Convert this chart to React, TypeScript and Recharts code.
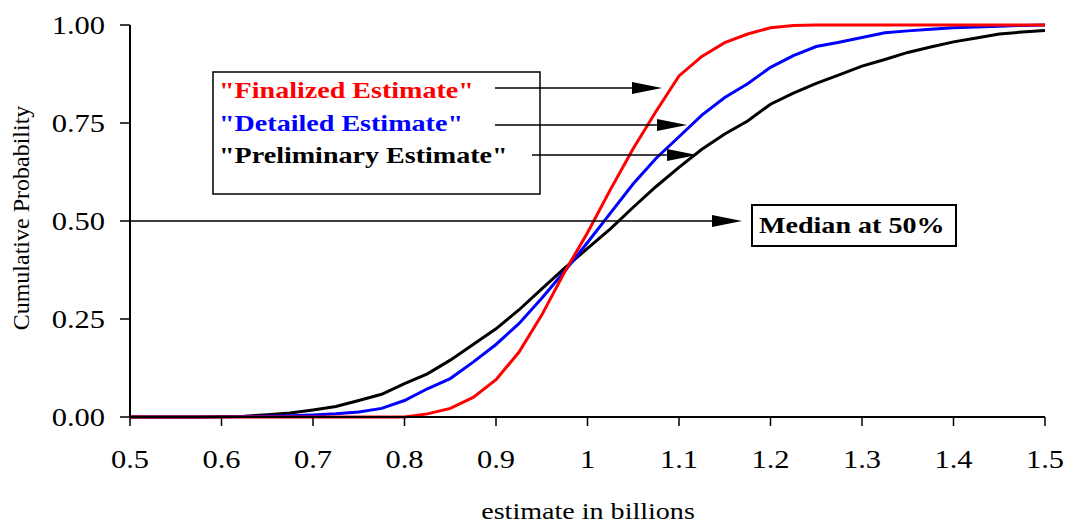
import React from "react";
import { LineChart, Line, XAxis, YAxis } from "recharts";

const X_VALUES = [
  0.5, 0.525, 0.55, 0.575, 0.6, 0.625, 0.65, 0.675, 0.7, 0.725, 0.75, 0.775, 0.8, 0.825, 0.85, 0.875,
  0.9, 0.925, 0.95, 0.975, 1.0, 1.025, 1.05, 1.075, 1.1, 1.125, 1.15, 1.175, 1.2, 1.225, 1.25, 1.275,
  1.3, 1.325, 1.35, 1.375, 1.4, 1.425, 1.45, 1.475, 1.5,
];

const FINALIZED = [
  0, 0, 0, 0, 0, 0, 0, 0, 0, 0, 0, 0, 0, 0.008, 0.022, 0.05, 0.095, 0.165, 0.26, 0.37, 0.47, 0.58,
  0.685, 0.78, 0.87, 0.92, 0.955, 0.977, 0.993, 0.999, 1, 1, 1, 1, 1, 1, 1, 1, 1, 1, 1,
];

const DETAILED = [
  0, 0, 0, 0, 0, 0.001, 0.002, 0.003, 0.005, 0.008, 0.013, 0.022, 0.042, 0.072, 0.098, 0.14, 0.185,
  0.238, 0.303, 0.372, 0.445, 0.52, 0.595, 0.66, 0.715, 0.77, 0.815, 0.85, 0.892, 0.922, 0.945, 0.956,
  0.968, 0.98, 0.985, 0.989, 0.993, 0.995, 0.997, 0.999, 1.0,
];

const PRELIMINARY = [
  0, 0, 0, 0, 0.001, 0.002, 0.006, 0.01, 0.018, 0.027, 0.042, 0.058, 0.085, 0.11, 0.145, 0.185, 0.225,
  0.273, 0.327, 0.38, 0.43, 0.48, 0.535, 0.588, 0.637, 0.683, 0.722, 0.755, 0.798, 0.826, 0.851, 0.873,
  0.895, 0.912, 0.93, 0.944, 0.957, 0.967, 0.977, 0.982, 0.986,
];

const X_TICKS = [0.5, 0.6, 0.7, 0.8, 0.9, 1, 1.1, 1.2, 1.3, 1.4, 1.5];
const Y_TICKS = [0, 0.25, 0.5, 0.75, 1];

const LEGEND_LABELS = ['"Finalized Estimate"', '"Detailed Estimate"', '"Preliminary Estimate"'];
const LEGEND_COLORS = ["#ff0000", "#0000ff", "#000000"];
const MEDIAN_LABEL = "Median at 50%";
const X_TITLE = "estimate in billions";
const Y_TITLE = "Cumulative Probability";

const data = X_VALUES.map((x, i) => ({
  x,
  fin: FINALIZED[i],
  det: DETAILED[i],
  pre: PRELIMINARY[i],
}));

const FONT = '"Liberation Serif", "Times New Roman", serif';
const SX = 1.17;

// layout
const W = 1065;
const H = 525;
const PL = 130;
const PR = 1045;
const PT = 25;
const PB = 417;
const px = (v: number) => PL + ((v - 0.5) / 1.0) * (PR - PL);
const py = (v: number) => PB - v * (PB - PT);

function SText(props: any) {
  const { x, y, anchor = "start", size = 24, weight = "normal", fill = "#000", sx = SX, children } = props;
  return (
    <text
      transform={`translate(${x},${y}) scale(${sx},1)`}
      textAnchor={anchor}
      fontFamily={FONT}
      fontSize={size}
      fontWeight={weight}
      fill={fill}
    >
      {children}
    </text>
  );
}

function YTick(props: any) {
  const { x, y, payload } = props;
  return (
    <SText x={x} y={y + 8.5} anchor="end" size={25} sx={1.22}>
      {Number(payload.value).toFixed(2)}
    </SText>
  );
}

function XTick(props: any) {
  const { x, y, payload } = props;
  return (
    <SText x={x} y={y + 42} anchor="middle" size={25} sx={1.22}>
      {String(Math.round(payload.value * 10) / 10)}
    </SText>
  );
}

function Arrow({ x1, x2, y }: { x1: number; x2: number; y: number }) {
  const hl = 30;
  const hw = 6;
  return (
    <g>
      <line x1={x1} y1={y} x2={x2 - hl + 2} y2={y} stroke="#000" strokeWidth={1.6} />
      <polygon points={`${x2},${y} ${x2 - hl},${y - hw} ${x2 - hl},${y + hw}`} fill="#000" />
    </g>
  );
}

export default function App() {
  return (
    <div style={{ position: "absolute", left: 0, top: 0, width: W, height: H, background: "#fff" }}>
      <LineChart
        width={W}
        height={H}
        data={data}
        margin={{ top: PT, right: W - PR, left: 50, bottom: H - PB - 60 }}
      >
        <XAxis
          dataKey="x"
          type="number"
          domain={[0.5, 1.5]}
          ticks={X_TICKS}
          allowDataOverflow
          height={60}
          tickSize={9}
          tickMargin={0}
          tick={<XTick />}
          axisLine={{ stroke: "#000", strokeWidth: 2 }}
          tickLine={{ stroke: "#000", strokeWidth: 1.5 }}
        />
        <YAxis
          type="number"
          domain={[0, 1]}
          ticks={Y_TICKS}
          width={80}
          tickSize={10}
          tickMargin={15}
          tick={<YTick />}
          axisLine={{ stroke: "#000", strokeWidth: 2 }}
          tickLine={{ stroke: "#000", strokeWidth: 1.5 }}
        />
        <Line dataKey="pre" stroke="#000000" strokeWidth={3} dot={false} isAnimationActive={false} />
        <Line dataKey="det" stroke="#0000ff" strokeWidth={3} dot={false} isAnimationActive={false} />
        <Line dataKey="fin" stroke="#ff0000" strokeWidth={3} dot={false} isAnimationActive={false} />
      </LineChart>
      <svg
        width={W}
        height={H}
        style={{ position: "absolute", left: 0, top: 0, pointerEvents: "none" }}
      >
        {/* legend box */}
        <rect x={213} y={72} width={327} height={122} fill="#fff" stroke="#000" strokeWidth={1.5} />
        <SText x={219} y={97.5} weight="bold" fill={LEGEND_COLORS[0]}>{LEGEND_LABELS[0]}</SText>
        <SText x={219} y={130.5} weight="bold" fill={LEGEND_COLORS[1]}>{LEGEND_LABELS[1]}</SText>
        <SText x={219} y={163} weight="bold" fill={LEGEND_COLORS[2]}>{LEGEND_LABELS[2]}</SText>
        <Arrow x1={495} x2={662} y={88} />
        <Arrow x1={495} x2={687} y={125} />
        <Arrow x1={532} x2={697} y={155} />
        {/* median */}
        <Arrow x1={px(0.5)} x2={742} y={py(0.5)} />
        <rect x={752} y={205} width={204} height={41} fill="#fff" stroke="#000" strokeWidth={2} />
        <SText x={759} y={233} weight="bold">{MEDIAN_LABEL}</SText>
        {/* axis titles */}
        <SText x={588} y={519} anchor="middle">{X_TITLE}</SText>
        <text
          transform={`translate(29,218) rotate(-90)`}
          textAnchor="middle"
          fontFamily={FONT}
          fontSize={24}
          fill="#000"
        >
          {Y_TITLE}
        </text>
      </svg>
    </div>
  );
}
